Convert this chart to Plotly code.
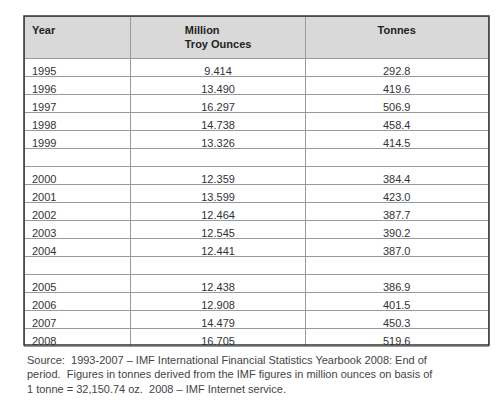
import plotly.graph_objects as go

years = [1995, 1996, 1997, 1998, 1999, 2000, 2001, 2002, 2003, 2004, 2005, 2006, 2007, 2008]
million_troy_ounces = [9.414, 13.490, 16.297, 14.738, 13.326, 12.359, 13.599, 12.464, 12.545, 12.441,
                       12.438, 12.908, 14.479, 16.705]
tonnes = [292.8, 419.6, 506.9, 458.4, 414.5, 384.4, 423.0, 387.7, 390.2, 387.0,
          386.9, 401.5, 450.3, 519.6]
headers = ["Year", "Million<br>Troy Ounces", "Tonnes"]
source = ("Source:  1993-2007 – IMF International Financial Statistics Yearbook 2008: End of<br>"
          "period.  Figures in tonnes derived from the IMF figures in million ounces on basis of<br>"
          "1 tonne = 32,150.74 oz.  2008 – IMF Internet service.")

c1, c2, c3 = [], [], []
for i, (y, o, t) in enumerate(zip(years, million_troy_ounces, tonnes)):
    if i in (5, 10):
        c1.append(""); c2.append(""); c3.append("")
    c1.append(str(y)); c2.append(f"{o:.3f}"); c3.append(f"{t:.1f}")

W, H = 500, 407
fig = go.Figure(go.Table(
    domain=dict(x=[16/W, 481/W], y=[0, 1 - 8/H]),
    columnwidth=[107, 175, 183],
    header=dict(values=[f"<b>{h}</b>" for h in headers],
                fill_color="#d9d9d9", line=dict(color="#999999", width=1),
                align=["left", "center", "center"], height=40,
                font=dict(family="Liberation Sans", size=11, color="#222222")),
    cells=dict(values=[c1, c2, c3], fill_color="white",
               line=dict(color="#999999", width=1),
               align=["left", "center", "center"], height=18,
               font=dict(family="Liberation Sans", size=11, color="#333333")),
))
fig.add_shape(type="rect", xref="paper", yref="paper",
              x0=16/W, x1=481/W, y0=1 - 337/H, y1=1 - 8/H,
              line=dict(color="#333333", width=1.5))
fig.add_annotation(text=source, xref="paper", yref="paper", x=17/W, y=1 - 344/H,
                   xanchor="left", yanchor="top", showarrow=False, align="left",
                   font=dict(family="Liberation Sans", size=11, color="#444444"))
fig.update_layout(width=W, height=H, margin=dict(l=0, r=0, t=0, b=0),
                  paper_bgcolor="white", plot_bgcolor="white")
fig.write_html("out.html")
